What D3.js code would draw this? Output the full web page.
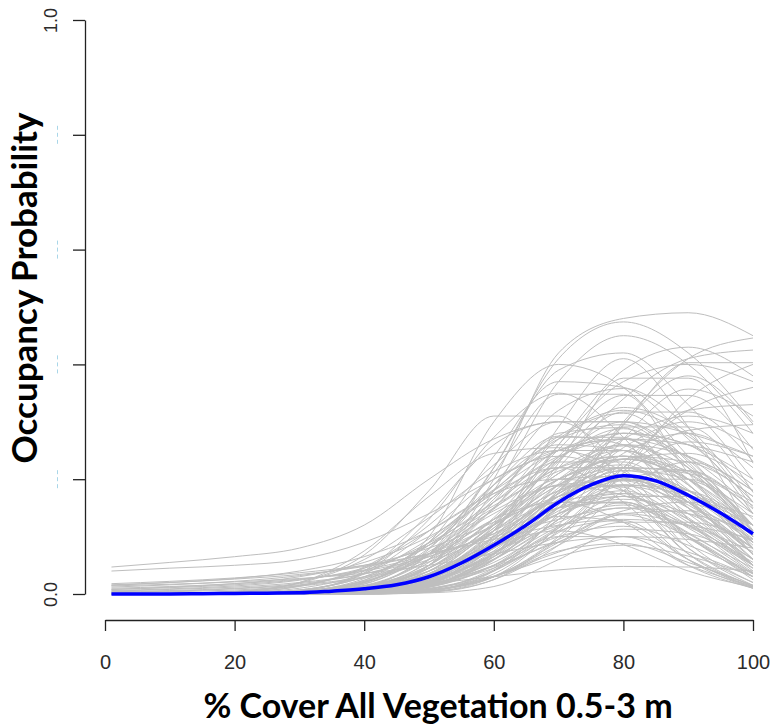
<!DOCTYPE html>
<html>
<head>
<meta charset="utf-8">
<script src="https://cdn.jsdelivr.net/npm/d3@7"></script>
<style>
  html, body { margin: 0; padding: 0; background: #ffffff; }
  svg { display: block; }
</style>
</head>
<body>
<svg id="chart" width="771" height="727"></svg>
<script>
// ---------------- DATA ----------------
const xTickValues = [0, 20, 40, 60, 80, 100];
const yTickValues = [0, 0.2, 0.4, 0.6, 0.8, 1.0];
const yTickLabels = ["0.0", "", "", "", "", "1.0"];

// x positions at which each posterior curve is sampled
const curveX = [1, 10, 20, 30, 40, 50, 60, 70, 80, 90, 100];

// high posterior curves
const highCurves = [
  [0,0,0,0.002,0.01,0.05,0.2,0.42,0.48,0.49,0.45],
  [0,0,0,0.002,0.012,0.06,0.22,0.41,0.474,0.42,0.30],
  [0,0,0,0.003,0.02,0.1,0.3,0.4,0.36,0.24,0.12],
  [0,0,0,0.002,0.01,0.05,0.18,0.37,0.45,0.40,0.28],
  [0,0,0,0,0.003,0.015,0.06,0.16,0.30,0.41,0.446],
  [0,0,0,0.001,0.006,0.03,0.10,0.22,0.34,0.41,0.425],
  [0,0,0,0.003,0.015,0.07,0.22,0.39,0.42,0.33,0.2],
  [0,0,0,0.001,0.006,0.03,0.11,0.26,0.39,0.43,0.38],
  [0,0,0.001,0.004,0.02,0.09,0.24,0.37,0.36,0.27,0.16],
  [0,0,0,0.002,0.008,0.035,0.12,0.26,0.37,0.40,0.37],
  [0.047,0.055,0.065,0.08,0.12,0.2,0.27,0.30,0.30,0.28,0.24],
  [0.04,0.045,0.05,0.06,0.09,0.14,0.2,0.25,0.27,0.26,0.23],
  [0,0,0,0.003,0.014,0.05,0.133,0.252,0.346,0.346,0.252],
  [0,0,0,0.002,0.017,0.078,0.211,0.348,0.348,0.211,0.078],
  [0,0,0,0,0.001,0.007,0.04,0.141,0.296,0.38,0.296],
  [0,0,0,0,0.002,0.018,0.103,0.291,0.41,0.291,0.103],
  [0,0,0,0,0.003,0.016,0.059,0.155,0.294,0.403,0.403],
  [0,0,0.001,0.006,0.037,0.13,0.273,0.35,0.273,0.13,0.037],
  [0,0,0,0,0.002,0.019,0.084,0.228,0.376,0.376,0.228],
  [0,0,0,0.002,0.012,0.07,0.19,0.32,0.358,0.29,0.16],
  [0,0,0,0,0.001,0.007,0.031,0.096,0.212,0.34,0.40],
  [0,0,0,0,0,0.004,0.03,0.12,0.27,0.357,0.31],
  [0,0,0,0.001,0.006,0.022,0.061,0.13,0.23,0.32,0.36],
  [0,0,0,0,0.001,0.006,0.03,0.1,0.22,0.32,0.33],
  [0,0,0.003,0.02,0.068,0.18,0.31,0.31,0.19,0.07,0.015]
];

// middle posterior curves
const midCurves = [
  [0,0,0,0.001,0.005,0.032,0.111,0.234,0.30,0.234,0.111],
  [0,0,0.001,0.005,0.022,0.067,0.148,0.238,0.28,0.238,0.148],
  [0,0,0,0.002,0.014,0.061,0.165,0.273,0.273,0.165,0.061],
  [0,0,0,0,0.002,0.015,0.065,0.177,0.291,0.291,0.177],
  [0,0,0,0.001,0.005,0.023,0.072,0.159,0.255,0.30,0.255],
  [0,0.001,0.005,0.019,0.06,0.133,0.213,0.25,0.213,0.133,0.06],
  [0,0,0,0,0.001,0.012,0.068,0.192,0.27,0.192,0.068],
  [0,0,0.002,0.01,0.036,0.096,0.182,0.25,0.25,0.182,0.096],
  [0,0,0,0.003,0.013,0.046,0.122,0.231,0.317,0.317,0.231],
  [0,0.001,0.004,0.015,0.041,0.089,0.154,0.214,0.24,0.214,0.154],
  [0,0,0,0.001,0.01,0.05,0.15,0.27,0.315,0.23,0.10],
  [0,0,0,0.001,0.006,0.03,0.1,0.2,0.258,0.22,0.12],
  [0,0,0,0,0.003,0.016,0.06,0.15,0.245,0.28,0.22],
  [0,0,0.001,0.007,0.035,0.11,0.2,0.24,0.2,0.1,0.03],
  [0,0,0,0.001,0.008,0.05,0.16,0.28,0.29,0.17,0.05],
  [0,0,0,0,0.002,0.014,0.07,0.18,0.28,0.26,0.14],
  [0,0,0,0.001,0.007,0.032,0.09,0.175,0.22,0.175,0.09],
  [0,0,0.001,0.005,0.027,0.09,0.19,0.26,0.25,0.16,0.07],
  [0,0,0,0.002,0.009,0.032,0.09,0.17,0.235,0.245,0.19],
  [0,0,0.001,0.007,0.03,0.085,0.18,0.275,0.32,0.275,0.18],
  [0,0,0,0.001,0.006,0.03,0.09,0.175,0.208,0.15,0.06],
  [0,0,0,0,0.002,0.01,0.04,0.11,0.21,0.265,0.24],
  [0,0,0.001,0.004,0.024,0.09,0.175,0.22,0.16,0.06,0.01],
  [0,0,0,0.001,0.005,0.03,0.11,0.24,0.325,0.28,0.15],
  [0,0,0.001,0.007,0.03,0.085,0.16,0.22,0.22,0.16,0.08],
  [0,0,0,0.001,0.004,0.02,0.07,0.15,0.22,0.215,0.14],
  [0,0,0,0.002,0.01,0.035,0.095,0.185,0.27,0.31,0.28],
  [0,0,0,0.003,0.02,0.08,0.19,0.275,0.26,0.15,0.05],
  [0,0,0,0.002,0.01,0.045,0.12,0.21,0.26,0.21,0.12],
  [0,0,0,0.001,0.008,0.04,0.125,0.235,0.288,0.22,0.1],
  [0,0,0,0,0.001,0.009,0.04,0.115,0.2,0.215,0.14],
  [0,0.001,0.003,0.013,0.045,0.11,0.175,0.2,0.18,0.115,0.05],
  [0,0,0,0.002,0.008,0.025,0.065,0.135,0.22,0.285,0.295],
  [0,0.001,0.004,0.02,0.075,0.17,0.245,0.255,0.18,0.08,0.02],
  [0,0,0.001,0.006,0.04,0.14,0.26,0.3,0.22,0.09,0.02],
  [0,0,0,0.001,0.004,0.022,0.08,0.175,0.235,0.21,0.12],
  [0,0,0,0.003,0.018,0.07,0.17,0.27,0.295,0.22,0.11],
  [0,0,0,0,0.001,0.004,0.025,0.085,0.18,0.23,0.18],
  [0,0,0,0,0.002,0.014,0.07,0.18,0.25,0.19,0.08],
  [0,0.001,0.003,0.014,0.047,0.12,0.225,0.3,0.3,0.225,0.12]
];

// dense core of the posterior band
const coreCurves = [
  [0,0,0,0.002,0.012,0.055,0.15,0.25,0.27,0.2,0.09],
  [0,0,0,0.001,0.009,0.045,0.13,0.22,0.24,0.17,0.07],
  [0,0,0.001,0.004,0.02,0.07,0.16,0.23,0.23,0.16,0.07],
  [0,0,0,0.001,0.006,0.035,0.115,0.21,0.25,0.2,0.1],
  [0,0,0,0,0.004,0.025,0.09,0.19,0.24,0.19,0.08],
  [0,0,0,0.002,0.012,0.05,0.13,0.2,0.205,0.14,0.05],
  [0,0,0,0.001,0.007,0.035,0.1,0.17,0.19,0.13,0.05],
  [0,0,0,0.001,0.005,0.025,0.08,0.16,0.2,0.16,0.07],
  [0,0,0,0,0.003,0.02,0.075,0.165,0.215,0.18,0.09],
  [0,0,0,0.002,0.01,0.04,0.11,0.19,0.22,0.18,0.1],
  [0,0,0,0.001,0.008,0.04,0.115,0.2,0.225,0.15,0.05],
  [0,0,0,0,0.004,0.025,0.085,0.15,0.16,0.1,0.03],
  [0,0,0,0,0.003,0.018,0.06,0.125,0.155,0.12,0.05],
  [0,0,0,0.001,0.006,0.028,0.08,0.14,0.165,0.14,0.08],
  [0,0,0,0.002,0.012,0.045,0.11,0.18,0.2,0.16,0.09],
  [0,0,0,0,0.002,0.012,0.05,0.13,0.2,0.2,0.13],
  [0,0,0,0.001,0.005,0.022,0.07,0.14,0.19,0.18,0.12],
  [0,0,0,0.001,0.008,0.035,0.09,0.15,0.17,0.13,0.06],
  [0,0,0,0,0.003,0.02,0.07,0.14,0.17,0.12,0.04],
  [0,0,0,0.002,0.01,0.045,0.12,0.2,0.235,0.2,0.11]
];

// low posterior curves
const lowCurves = [
  [0,0,0,0,0.002,0.014,0.07,0.16,0.175,0.1,0.025],
  [0,0,0,0,0.003,0.016,0.055,0.117,0.15,0.117,0.055],
  [0,0,0,0.001,0.008,0.036,0.097,0.16,0.16,0.097,0.036],
  [0,0,0,0,0.001,0.008,0.045,0.13,0.188,0.155,0.07],
  [0,0,0,0,0.002,0.016,0.094,0.19,0.186,0.08,0.015],
  [0,0,0,0.003,0.011,0.034,0.074,0.119,0.14,0.119,0.074],
  [0,0,0,0,0.002,0.012,0.05,0.115,0.17,0.17,0.11],
  [0,0,0,0.002,0.013,0.06,0.13,0.16,0.125,0.05,0.01],
  [0,0,0,0.001,0.003,0.016,0.05,0.1,0.118,0.085,0.035],
  [0,0,0,0,0,0.006,0.035,0.107,0.16,0.107,0.035],
  [0,0,0,0,0.003,0.022,0.08,0.135,0.125,0.06,0.012],
  [0,0,0,0.001,0.003,0.018,0.07,0.15,0.198,0.17,0.085],
  [0,0,0,0,0,0.004,0.042,0.11,0.128,0.06,0.01],
  [0,0,0,0.002,0.012,0.04,0.086,0.11,0.086,0.04,0.012],
  [0,0,0,0.001,0.005,0.018,0.048,0.091,0.125,0.125,0.091],
  [0,0,0,0,0.001,0.006,0.03,0.073,0.1,0.073,0.03],
  [0,0,0,0,0.002,0.018,0.08,0.16,0.158,0.07,0.013],
  [0,0,0,0,0,0.002,0.013,0.06,0.113,0.105,0.05],
  [0,0,0,0.001,0.004,0.015,0.045,0.095,0.145,0.16,0.135],
  [0,0,0.001,0.005,0.024,0.074,0.145,0.188,0.172,0.105,0.045],
  [0,0,0,0,0.002,0.009,0.031,0.066,0.085,0.066,0.031],
  [0,0,0.001,0.003,0.008,0.018,0.03,0.042,0.048,0.047,0.04],
  [0,0,0,0,0.001,0.006,0.03,0.075,0.088,0.055,0.015],
  [0,0,0,0,0.002,0.013,0.05,0.1,0.1,0.05,0.013],
  [0,0,0,0,0,0.003,0.025,0.09,0.138,0.1,0.03],
  [0,0,0,0,0.002,0.015,0.065,0.145,0.18,0.125,0.045],
  [0,0,0,0,0.001,0.006,0.03,0.085,0.14,0.145,0.095],
  [0,0,0.001,0.005,0.022,0.07,0.14,0.19,0.197,0.15,0.08]
];

// broad curves with non-zero values at low cover
const wideCurves = [
  [0.016,0.02,0.026,0.034,0.048,0.07,0.1,0.13,0.15,0.14,0.11],
  [0.012,0.016,0.022,0.032,0.05,0.08,0.125,0.17,0.19,0.17,0.12],
  [0.008,0.011,0.016,0.025,0.042,0.07,0.12,0.18,0.22,0.21,0.16],
  [0.005,0.008,0.012,0.02,0.035,0.065,0.12,0.19,0.24,0.23,0.17],
  [0.014,0.017,0.021,0.027,0.036,0.05,0.07,0.09,0.1,0.095,0.08],
  [0.003,0.005,0.009,0.016,0.03,0.06,0.11,0.17,0.2,0.18,0.12],
  [0.01,0.013,0.018,0.026,0.04,0.065,0.105,0.15,0.175,0.16,0.12],
  [0.002,0.004,0.007,0.014,0.028,0.056,0.105,0.17,0.215,0.2,0.14],
  [0.006,0.009,0.014,0.024,0.045,0.085,0.15,0.22,0.26,0.24,0.18],
  [0.018,0.022,0.028,0.037,0.05,0.07,0.095,0.12,0.13,0.12,0.095],
  [0.004,0.006,0.01,0.018,0.035,0.07,0.13,0.2,0.235,0.2,0.12],
  [0.008,0.012,0.018,0.03,0.055,0.1,0.17,0.24,0.27,0.24,0.17],
  [0.015,0.02,0.027,0.04,0.065,0.11,0.18,0.25,0.28,0.26,0.2]
];

// posterior-mean curve (blue)
const meanX = [1,5,10,15,20,25,30,35,40,45,50,55,60,65,70,75,80,85,90,95,100];
const meanY = [0,0,0,0.0005,0.001,0.0015,0.002,0.005,0.009,0.016,0.03,0.054,0.085,0.12,0.16,0.19,0.206,0.197,0.172,0.141,0.105];

const xTitle = "% Cover All Vegetation 0.5-3 m";
const yTitle = "Occupancy Probability";

// ---------------- DRAW ----------------
const svg = d3.select("#chart");
const x = d3.scaleLinear().domain([0, 100]).range([105, 753]);
const y = d3.scaleLinear().domain([0, 1]).range([594, 20]);

const line = d3.line()
  .x(d => x(d[0]))
  .y(d => y(d[1]))
  .curve(d3.curveMonotoneX);

const allGray = [].concat(highCurves, midCurves, coreCurves, lowCurves, wideCurves);
svg.append("g")
  .selectAll("path")
  .data(allGray)
  .join("path")
  .attr("d", vals => line(vals.map((v, i) => [curveX[i], v])))
  .attr("fill", "none")
  .attr("stroke", "#bebebe")
  .attr("stroke-width", 1);

svg.append("path")
  .attr("d", line(meanX.map((v, i) => [v, meanY[i]])))
  .attr("fill", "none")
  .attr("stroke", "#0000ff")
  .attr("stroke-width", 3.5)
  .attr("stroke-linejoin", "round");

// y axis
const yAxis = svg.append("g")
  .attr("transform", "translate(85,0)")
  .call(d3.axisLeft(y).tickValues(yTickValues).tickSize(12).tickSizeOuter(0)
    .tickFormat((d, i) => yTickLabels[i]));
yAxis.select(".domain").attr("stroke", "#222").attr("stroke-width", 1.3);
yAxis.selectAll(".tick line").attr("stroke", "#222").attr("stroke-width", 1.3);
yAxis.selectAll(".tick text")
  .attr("x", null).attr("dy", null)
  .attr("transform", "translate(-28,0) rotate(-90)")
  .attr("text-anchor", "middle")
  .attr("font-family", "Liberation Sans, Arial, sans-serif")
  .attr("font-size", 18)
  .attr("fill", "#2b2b2b");

// faint remnants of hidden y labels
svg.append("g")
  .selectAll("line")
  .data(yTickValues.filter((d, i) => yTickLabels[i] === ""))
  .join("line")
  .attr("x1", 57.5).attr("x2", 57.5)
  .attr("y1", d => y(d) - 9).attr("y2", d => y(d) + 9)
  .attr("stroke", "#a9d6e8")
  .attr("stroke-width", 1)
  .attr("stroke-dasharray", "4,3");

// x axis
const xAxis = svg.append("g")
  .attr("transform", "translate(0,620)")
  .call(d3.axisBottom(x).tickValues(xTickValues).tickSize(11).tickSizeOuter(0)
    .tickFormat(d3.format("d")));
xAxis.select(".domain").attr("stroke", "#222").attr("stroke-width", 1.3);
xAxis.selectAll(".tick line").attr("stroke", "#222").attr("stroke-width", 1.3);
xAxis.selectAll(".tick text")
  .attr("dy", null).attr("y", 49)
  .attr("font-family", "Liberation Sans, Arial, sans-serif")
  .attr("font-size", 20)
  .attr("fill", "#2b2b2b");

// titles
svg.append("text")
  .attr("x", 438).attr("y", 718)
  .attr("text-anchor", "middle")
  .attr("font-family", "Lato, sans-serif")
  .attr("font-weight", "bold")
  .attr("font-size", 34)
  .attr("fill", "#000")
  .text(xTitle);

svg.append("text")
  .attr("transform", "translate(37,288) rotate(-90)")
  .attr("text-anchor", "middle")
  .attr("font-family", "Lato, sans-serif")
  .attr("font-weight", "bold")
  .attr("font-size", 35)
  .attr("fill", "#000")
  .text(yTitle);
</script>
</body>
</html>
